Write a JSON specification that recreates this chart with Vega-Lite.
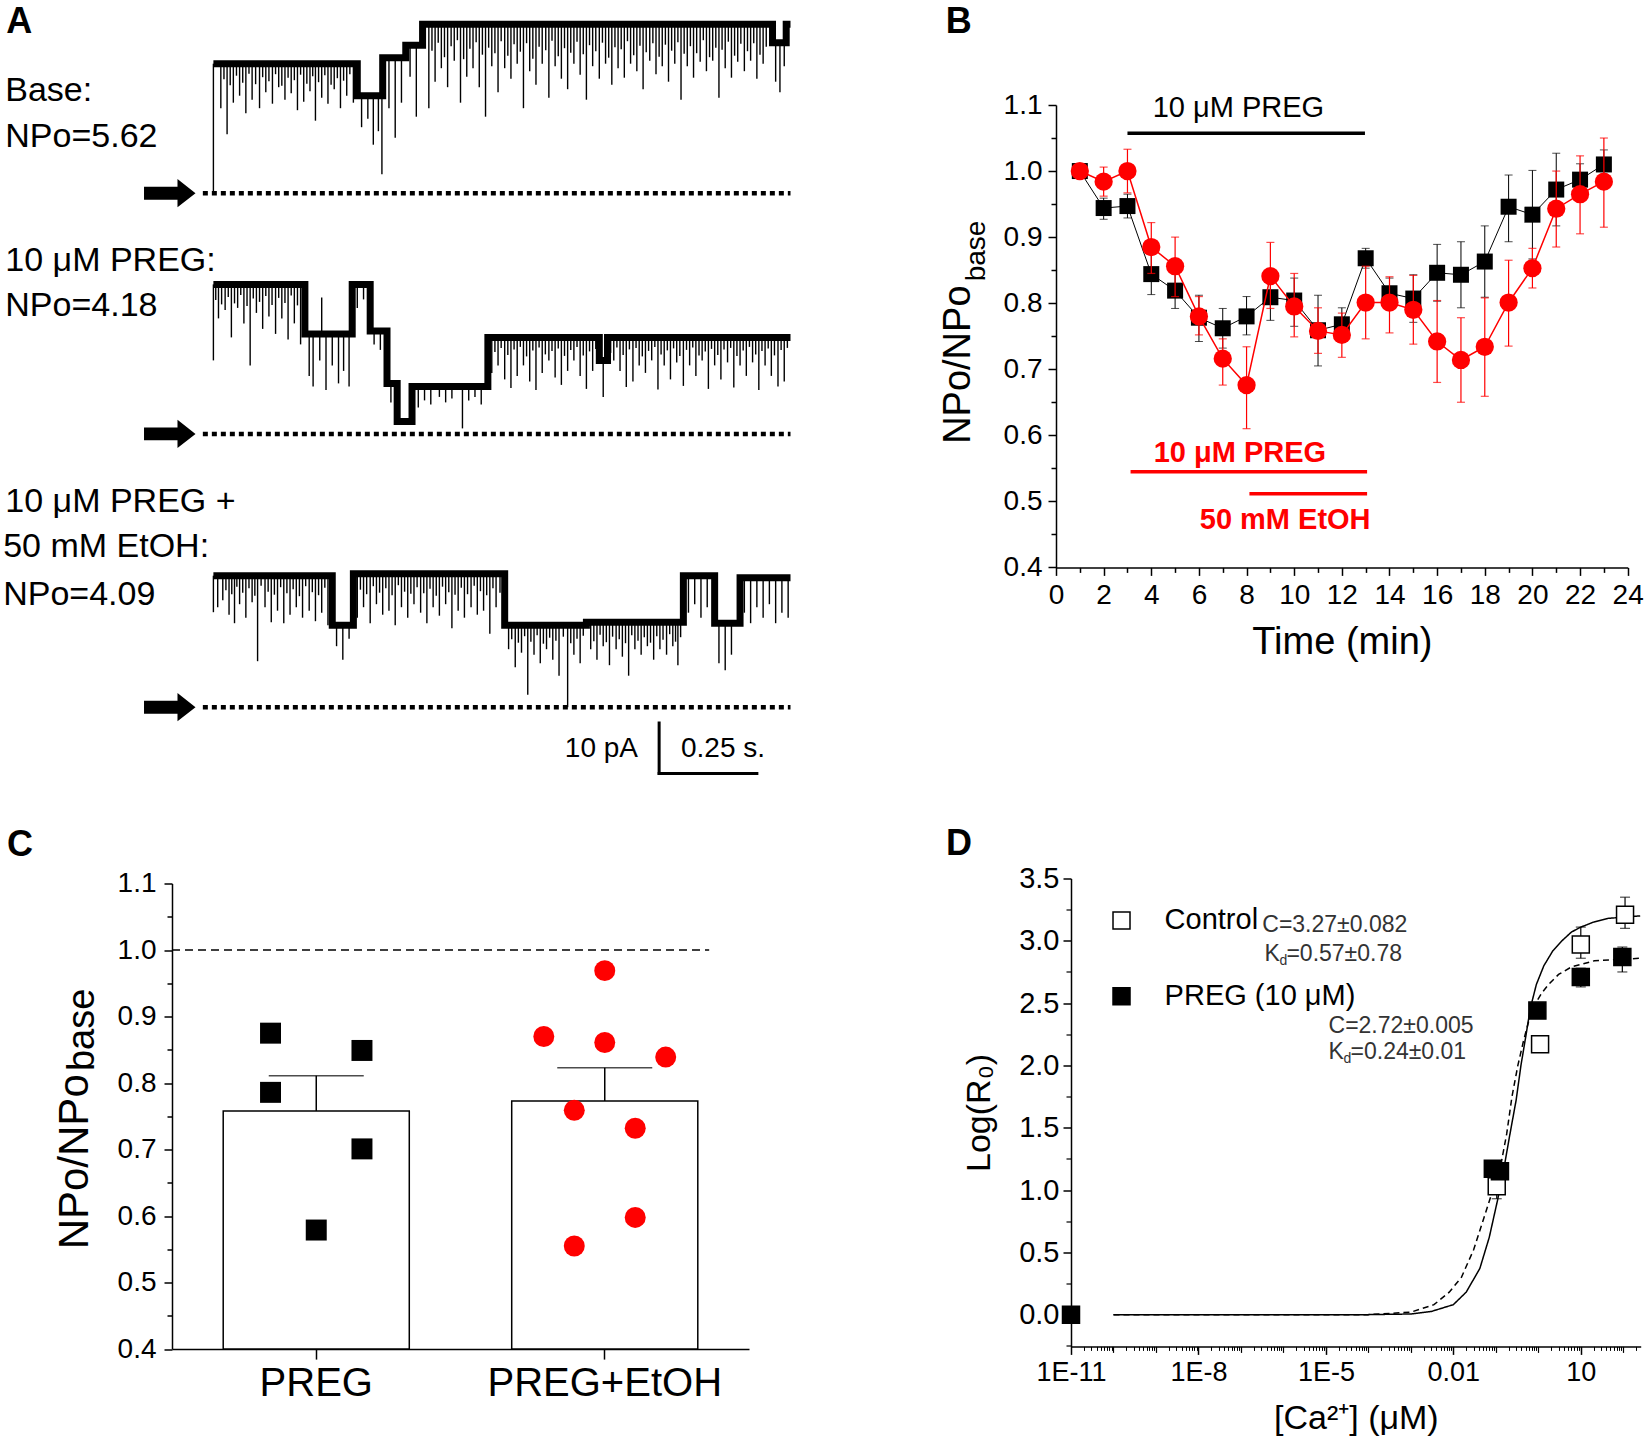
{
"$schema": "https://vega.github.io/schema/vega-lite/v6.json",
"background": "white",
"padding": 0,
"config": {
 "font": "Liberation Sans",
 "view": {"stroke": null},
 "axis": {"labelColor": "black", "titleColor": "black", "domainColor": "black", "tickColor": "black", "grid": false, "labelFont": "Liberation Sans", "titleFont": "Liberation Sans", "titleFontWeight": "normal"},
 "text": {"font": "Liberation Sans", "color": "black"}
},
"datasets": {
 "t1l": [{"t":0,"i":25.9},{"t":0.368,"i":19.5},{"t":0.433,"i":27.1},{"t":0.492,"i":29.6},{"t":0.535,"i":33.8},{"t":1.43,"i":30.1},{"t":1.465,"i":33.8},{"t":1.476,"i":33.8}],
 "t1s": [{"t":0,"h":25.9,"l":0},{"t":0.019,"h":25.9,"l":17},{"t":0.035,"h":25.9,"l":11.8},{"t":0.051,"h":25.9,"l":18.1},{"t":0.067,"h":25.9,"l":19.5},{"t":0.083,"h":25.9,"l":16},{"t":0.099,"h":25.9,"l":18.7},{"t":0.118,"h":25.9,"l":17},{"t":0.134,"h":25.9,"l":20.2},{"t":0.151,"h":25.9,"l":17.9},{"t":0.167,"h":25.9,"l":21.2},{"t":0.183,"h":25.9,"l":18.7},{"t":0.199,"h":25.9,"l":20},{"t":0.215,"h":25.9,"l":16.6},{"t":0.231,"h":25.9,"l":18.3},{"t":0.247,"h":25.9,"l":20.4},{"t":0.261,"h":25.9,"l":14.5},{"t":0.277,"h":25.9,"l":19.1},{"t":0.293,"h":25.9,"l":17.9},{"t":0.309,"h":25.9,"l":20.8},{"t":0.325,"h":25.9,"l":17},{"t":0.341,"h":25.9,"l":19.5},{"t":0.358,"h":25.9,"l":18.1},{"t":0.379,"h":19.5,"l":13.2},{"t":0.395,"h":19.5,"l":14.9},{"t":0.409,"h":19.5,"l":9.7},{"t":0.422,"h":19.5,"l":12.4},{"t":0.431,"h":19.5,"l":3.8},{"t":0.449,"h":27.1,"l":17},{"t":0.465,"h":27.1,"l":11.1},{"t":0.481,"h":27.1,"l":18.1},{"t":0.503,"h":29.6,"l":23.3},{"t":0.519,"h":29.6,"l":15.3},{"t":0.551,"h":33.8,"l":17},{"t":0.567,"h":33.8,"l":22.3},{"t":0.583,"h":33.8,"l":25},{"t":0.599,"h":33.8,"l":21.2},{"t":0.616,"h":33.8,"l":26.5},{"t":0.632,"h":33.8,"l":18.1},{"t":0.648,"h":33.8,"l":23.3},{"t":0.664,"h":33.8,"l":25},{"t":0.68,"h":33.8,"l":21.2},{"t":0.696,"h":33.8,"l":15.3},{"t":0.712,"h":33.8,"l":25.4},{"t":0.728,"h":33.8,"l":20.2},{"t":0.745,"h":33.8,"l":25},{"t":0.761,"h":33.8,"l":22.9},{"t":0.777,"h":33.8,"l":25.9},{"t":0.793,"h":33.8,"l":17},{"t":0.809,"h":33.8,"l":24.4},{"t":0.825,"h":33.8,"l":21.7},{"t":0.841,"h":33.8,"l":25.9},{"t":0.858,"h":33.8,"l":19.1},{"t":0.874,"h":33.8,"l":25.4},{"t":0.89,"h":33.8,"l":22.9},{"t":0.906,"h":33.8,"l":20.8},{"t":0.922,"h":33.8,"l":25.9},{"t":0.938,"h":33.8,"l":23.7},{"t":0.954,"h":33.8,"l":18.7},{"t":0.97,"h":33.8,"l":25.4},{"t":0.987,"h":33.8,"l":22.9},{"t":1.003,"h":33.8,"l":25.9},{"t":1.019,"h":33.8,"l":21.7},{"t":1.035,"h":33.8,"l":25},{"t":1.051,"h":33.8,"l":23.1},{"t":1.067,"h":33.8,"l":25.9},{"t":1.083,"h":33.8,"l":24.4},{"t":1.099,"h":33.8,"l":20.8},{"t":1.116,"h":33.8,"l":26.5},{"t":1.132,"h":33.8,"l":23.8},{"t":1.148,"h":33.8,"l":25.4},{"t":1.164,"h":33.8,"l":22.3},{"t":1.18,"h":33.8,"l":25.9},{"t":1.196,"h":33.8,"l":18.7},{"t":1.212,"h":33.8,"l":25.4},{"t":1.228,"h":33.8,"l":23.1},{"t":1.245,"h":33.8,"l":26.3},{"t":1.261,"h":33.8,"l":24.4},{"t":1.277,"h":33.8,"l":26.5},{"t":1.293,"h":33.8,"l":19.1},{"t":1.309,"h":33.8,"l":25},{"t":1.325,"h":33.8,"l":23.1},{"t":1.341,"h":33.8,"l":26.3},{"t":1.358,"h":33.8,"l":24.4},{"t":1.374,"h":33.8,"l":26.5},{"t":1.39,"h":33.8,"l":22.9},{"t":1.406,"h":33.8,"l":25.9},{"t":1.438,"h":30.1,"l":22.3},{"t":1.449,"h":30.1,"l":20.2},{"t":1.46,"h":30.1,"l":25.4},
  {"t":0.027,"h":25.9,"l":22.8},{"t":0.043,"h":25.9,"l":21.6},{"t":0.059,"h":25.9,"l":23.5},{"t":0.075,"h":25.9,"l":22.1},{"t":0.091,"h":25.9,"l":23.9},{"t":0.108,"h":25.9,"l":21.8},{"t":0.126,"h":25.9,"l":23.2},{"t":0.142,"h":25.9,"l":22.4},{"t":0.159,"h":25.9,"l":23.8},{"t":0.175,"h":25.9,"l":21.5},{"t":0.191,"h":25.9,"l":23.1},{"t":0.207,"h":25.9,"l":22.6},{"t":0.223,"h":25.9,"l":23.7},{"t":0.239,"h":25.9,"l":21.9},{"t":0.254,"h":25.9,"l":23.4},{"t":0.269,"h":25.9,"l":22.2},{"t":0.285,"h":25.9,"l":23.6},{"t":0.301,"h":25.9,"l":21.7},{"t":0.317,"h":25.9,"l":23},{"t":0.333,"h":25.9,"l":22.5},{"t":0.349,"h":25.9,"l":23.8},
  {"t":0.559,"h":33.8,"l":28.5},{"t":0.575,"h":33.8,"l":30.1},{"t":0.591,"h":33.8,"l":27.2},{"t":0.608,"h":33.8,"l":29.4},{"t":0.624,"h":33.8,"l":30.6},{"t":0.64,"h":33.8,"l":26.8},{"t":0.656,"h":33.8,"l":28.9},{"t":0.672,"h":33.8,"l":30.2},{"t":0.688,"h":33.8,"l":27.7},{"t":0.704,"h":33.8,"l":29.1},{"t":0.72,"h":33.8,"l":28},{"t":0.736,"h":33.8,"l":30.4},{"t":0.753,"h":33.8,"l":27.5},{"t":0.769,"h":33.8,"l":29.8},{"t":0.785,"h":33.8,"l":28.3},{"t":0.801,"h":33.8,"l":30},{"t":0.817,"h":33.8,"l":26.9},{"t":0.833,"h":33.8,"l":29.3},{"t":0.85,"h":33.8,"l":28.6},{"t":0.866,"h":33.8,"l":30.5},{"t":0.882,"h":33.8,"l":27.4},{"t":0.898,"h":33.8,"l":29},{"t":0.914,"h":33.8,"l":28.1},{"t":0.93,"h":33.8,"l":30.3},{"t":0.946,"h":33.8,"l":27.8},{"t":0.962,"h":33.8,"l":29.6},{"t":0.978,"h":33.8,"l":28.4},{"t":0.995,"h":33.8,"l":30.1},{"t":1.011,"h":33.8,"l":27.1},{"t":1.027,"h":33.8,"l":29.2},{"t":1.043,"h":33.8,"l":28.8},{"t":1.059,"h":33.8,"l":30.4},{"t":1.075,"h":33.8,"l":27.6},{"t":1.091,"h":33.8,"l":29.5},{"t":1.107,"h":33.8,"l":28.2},{"t":1.124,"h":33.8,"l":30},{"t":1.14,"h":33.8,"l":27.3},{"t":1.156,"h":33.8,"l":29.7},{"t":1.172,"h":33.8,"l":28.5},{"t":1.188,"h":33.8,"l":30.2},{"t":1.204,"h":33.8,"l":27.9},{"t":1.22,"h":33.8,"l":29.4},{"t":1.236,"h":33.8,"l":28},{"t":1.253,"h":33.8,"l":30.6},{"t":1.269,"h":33.8,"l":27.2},{"t":1.285,"h":33.8,"l":29.1},{"t":1.301,"h":33.8,"l":28.7},{"t":1.317,"h":33.8,"l":30.3},{"t":1.333,"h":33.8,"l":27.5},{"t":1.349,"h":33.8,"l":29.9},{"t":1.366,"h":33.8,"l":28.4},{"t":1.382,"h":33.8,"l":30},{"t":1.398,"h":33.8,"l":27.7},{"t":1.414,"h":33.8,"l":29.3}],
 "t2l": [{"t":0,"i":29.9},{"t":0.234,"i":20},{"t":0.355,"i":29.9},{"t":0.401,"i":20.6},{"t":0.444,"i":10.1},{"t":0.47,"i":2.5},{"t":0.508,"i":9.5},{"t":0.702,"i":19.3},{"t":0.987,"i":14.7},{"t":1.008,"i":19.3},{"t":1.476,"i":19.3}],
 "t2s": [{"t":0,"h":29.9,"l":14.7},{"t":0.013,"h":29.9,"l":23.1},{"t":0.03,"h":29.9,"l":24.8},{"t":0.046,"h":29.9,"l":19.3},{"t":0.062,"h":29.9,"l":25.2},{"t":0.078,"h":29.9,"l":22.1},{"t":0.094,"h":29.9,"l":13.7},{"t":0.11,"h":29.9,"l":24.2},{"t":0.126,"h":29.9,"l":21},{"t":0.142,"h":29.9,"l":23.5},{"t":0.159,"h":29.9,"l":20},{"t":0.175,"h":29.9,"l":23.1},{"t":0.191,"h":29.9,"l":18.9},{"t":0.207,"h":29.9,"l":22.1},{"t":0.223,"h":29.9,"l":17.9},{"t":0.245,"h":20,"l":11.6},{"t":0.255,"h":20,"l":9.5},{"t":0.272,"h":20,"l":14.7},{"t":0.277,"h":20,"l":27.3},{"t":0.288,"h":20,"l":8.8},{"t":0.304,"h":20,"l":13.7},{"t":0.32,"h":20,"l":10.1},{"t":0.333,"h":20,"l":12.6},{"t":0.347,"h":20,"l":9.5},{"t":0.368,"h":29.9,"l":25.2},{"t":0.384,"h":29.9,"l":26.9},{"t":0.411,"h":20.6,"l":17.9},{"t":0.427,"h":20.6,"l":16.8},{"t":0.454,"h":10.1,"l":6.3},{"t":0.524,"h":9.5,"l":5.3},{"t":0.54,"h":9.5,"l":6.7},{"t":0.556,"h":9.5,"l":5.9},{"t":0.578,"h":9.5,"l":7.4},{"t":0.594,"h":9.5,"l":6.3},{"t":0.61,"h":9.5,"l":7.1},{"t":0.637,"h":9.5,"l":1.1},{"t":0.653,"h":9.5,"l":6.7},{"t":0.669,"h":9.5,"l":7.4},{"t":0.685,"h":9.5,"l":5.9},{"t":0.712,"h":19.3,"l":12.2},{"t":0.728,"h":19.3,"l":13.7},{"t":0.745,"h":19.3,"l":10.9},{"t":0.761,"h":19.3,"l":9.2},{"t":0.777,"h":19.3,"l":11.6},{"t":0.793,"h":19.3,"l":13.7},{"t":0.809,"h":19.3,"l":10.5},{"t":0.825,"h":19.3,"l":8.8},{"t":0.841,"h":19.3,"l":12.2},{"t":0.858,"h":19.3,"l":14.7},{"t":0.874,"h":19.3,"l":11.3},{"t":0.89,"h":19.3,"l":9.8},{"t":0.906,"h":19.3,"l":12.6},{"t":0.922,"h":19.3,"l":14.7},{"t":0.938,"h":19.3,"l":11.6},{"t":0.954,"h":19.3,"l":9},{"t":0.97,"h":19.3,"l":12.6},{"t":0.997,"h":14.7,"l":7.4},{"t":1.024,"h":19.3,"l":14.7},{"t":1.04,"h":19.3,"l":12.6},{"t":1.056,"h":19.3,"l":9.4},{"t":1.073,"h":19.3,"l":10.5},{"t":1.089,"h":19.3,"l":13.7},{"t":1.105,"h":19.3,"l":12.2},{"t":1.121,"h":19.3,"l":14.7},{"t":1.137,"h":19.3,"l":8.9},{"t":1.153,"h":19.3,"l":13.7},{"t":1.169,"h":19.3,"l":10.9},{"t":1.185,"h":19.3,"l":14.3},{"t":1.202,"h":19.3,"l":9.6},{"t":1.218,"h":19.3,"l":13.7},{"t":1.234,"h":19.3,"l":11.6},{"t":1.25,"h":19.3,"l":14.7},{"t":1.266,"h":19.3,"l":9},{"t":1.282,"h":19.3,"l":13.7},{"t":1.298,"h":19.3,"l":10.9},{"t":1.315,"h":19.3,"l":14.3},{"t":1.331,"h":19.3,"l":9.3},{"t":1.347,"h":19.3,"l":13.7},{"t":1.363,"h":19.3,"l":11.6},{"t":1.379,"h":19.3,"l":14.3},{"t":1.395,"h":19.3,"l":8.8},{"t":1.411,"h":19.3,"l":13.7},{"t":1.427,"h":19.3,"l":11.6},{"t":1.444,"h":19.3,"l":9.5},{"t":1.46,"h":19.3,"l":10.5},
  {"t":0.006,"h":29.9,"l":26.8},{"t":0.021,"h":29.9,"l":25.9},{"t":0.038,"h":29.9,"l":27.4},{"t":0.054,"h":29.9,"l":26.1},{"t":0.07,"h":29.9,"l":27.8},{"t":0.086,"h":29.9,"l":25.6},{"t":0.102,"h":29.9,"l":27.1},{"t":0.118,"h":29.9,"l":26.4},{"t":0.134,"h":29.9,"l":27.6},{"t":0.15,"h":29.9,"l":25.8},{"t":0.167,"h":29.9,"l":27.2},{"t":0.183,"h":29.9,"l":26.2},{"t":0.199,"h":29.9,"l":27.7},{"t":0.215,"h":29.9,"l":25.7},{"t":0.229,"h":29.9,"l":26.9},
  {"t":0.72,"h":19.3,"l":16.4},{"t":0.736,"h":19.3,"l":17.2},{"t":0.753,"h":19.3,"l":15.8},{"t":0.769,"h":19.3,"l":16.9},{"t":0.785,"h":19.3,"l":17.4},{"t":0.801,"h":19.3,"l":15.5},{"t":0.817,"h":19.3,"l":16.7},{"t":0.833,"h":19.3,"l":17.3},{"t":0.849,"h":19.3,"l":15.9},{"t":0.866,"h":19.3,"l":16.6},{"t":0.882,"h":19.3,"l":17.1},{"t":0.898,"h":19.3,"l":15.6},{"t":0.914,"h":19.3,"l":16.8},{"t":0.93,"h":19.3,"l":17.4},{"t":0.946,"h":19.3,"l":15.7},{"t":0.962,"h":19.3,"l":16.5},{"t":0.978,"h":19.3,"l":17},{"t":1.016,"h":19.3,"l":16.2},{"t":1.032,"h":19.3,"l":17.3},{"t":1.048,"h":19.3,"l":15.8},{"t":1.064,"h":19.3,"l":16.9},{"t":1.081,"h":19.3,"l":17.2},{"t":1.097,"h":19.3,"l":15.5},{"t":1.113,"h":19.3,"l":16.6},{"t":1.129,"h":19.3,"l":17.4},{"t":1.145,"h":19.3,"l":15.9},{"t":1.161,"h":19.3,"l":16.7},{"t":1.177,"h":19.3,"l":17.1},{"t":1.193,"h":19.3,"l":15.6},{"t":1.21,"h":19.3,"l":16.8},{"t":1.226,"h":19.3,"l":17.3},{"t":1.242,"h":19.3,"l":15.7},{"t":1.258,"h":19.3,"l":16.5},{"t":1.274,"h":19.3,"l":17},{"t":1.29,"h":19.3,"l":15.8},{"t":1.306,"h":19.3,"l":16.9},{"t":1.323,"h":19.3,"l":17.2},{"t":1.339,"h":19.3,"l":15.6},{"t":1.355,"h":19.3,"l":16.7},{"t":1.371,"h":19.3,"l":17.4},{"t":1.387,"h":19.3,"l":15.9},{"t":1.403,"h":19.3,"l":16.6},{"t":1.419,"h":19.3,"l":17.1},{"t":1.435,"h":19.3,"l":15.7},{"t":1.452,"h":19.3,"l":16.8},{"t":1.468,"h":19.3,"l":17.2}],
 "t3l": [{"t":0,"i":26.3},{"t":0.304,"i":16.4},{"t":0.358,"i":26.7},{"t":0.745,"i":16.4},{"t":0.954,"i":17},{"t":1.202,"i":26.3},{"t":1.282,"i":16.8},{"t":1.347,"i":25.9},{"t":1.476,"i":25.9}],
 "t3s": [{"t":0,"h":26.3,"l":19},{"t":0.011,"h":26.3,"l":20},{"t":0.024,"h":26.3,"l":21.4},{"t":0.04,"h":26.3,"l":18.5},{"t":0.054,"h":26.3,"l":16.8},{"t":0.067,"h":26.3,"l":20.6},{"t":0.083,"h":26.3,"l":17.9},{"t":0.099,"h":26.3,"l":21},{"t":0.113,"h":26.3,"l":9.2},{"t":0.132,"h":26.3,"l":20},{"t":0.148,"h":26.3,"l":17},{"t":0.164,"h":26.3,"l":19.3},{"t":0.18,"h":26.3,"l":16.8},{"t":0.196,"h":26.3,"l":18.5},{"t":0.212,"h":26.3,"l":20},{"t":0.228,"h":26.3,"l":17.9},{"t":0.245,"h":26.3,"l":19.3},{"t":0.261,"h":26.3,"l":17.2},{"t":0.277,"h":26.3,"l":18.9},{"t":0.293,"h":26.3,"l":16.4},{"t":0.315,"h":16.4,"l":12.2},{"t":0.331,"h":16.4,"l":9.5},{"t":0.347,"h":16.4,"l":13.7},{"t":0.368,"h":26.7,"l":17.9},{"t":0.384,"h":26.7,"l":20},{"t":0.401,"h":26.7,"l":16.8},{"t":0.417,"h":26.7,"l":20.6},{"t":0.433,"h":26.7,"l":18.5},{"t":0.449,"h":26.7,"l":19.3},{"t":0.465,"h":26.7,"l":16.4},{"t":0.481,"h":26.7,"l":20},{"t":0.497,"h":26.7,"l":17.9},{"t":0.513,"h":26.7,"l":20.6},{"t":0.53,"h":26.7,"l":18.9},{"t":0.546,"h":26.7,"l":16.8},{"t":0.562,"h":26.7,"l":20},{"t":0.578,"h":26.7,"l":18.3},{"t":0.594,"h":26.7,"l":20.6},{"t":0.61,"h":26.7,"l":15.8},{"t":0.626,"h":26.7,"l":19.3},{"t":0.642,"h":26.7,"l":17.9},{"t":0.659,"h":26.7,"l":20},{"t":0.675,"h":26.7,"l":18.5},{"t":0.691,"h":26.7,"l":19.3},{"t":0.707,"h":26.7,"l":14.7},{"t":0.723,"h":26.7,"l":20},{"t":0.755,"h":16.4,"l":11.6},{"t":0.772,"h":16.4,"l":8},{"t":0.788,"h":16.4,"l":10.9},{"t":0.804,"h":16.4,"l":2.5},{"t":0.82,"h":16.4,"l":10.5},{"t":0.836,"h":16.4,"l":8.8},{"t":0.852,"h":16.4,"l":11.6},{"t":0.868,"h":16.4,"l":9.5},{"t":0.884,"h":16.4,"l":6.3},{"t":0.906,"h":16.4,"l":0},{"t":0.922,"h":16.4,"l":10.5},{"t":0.938,"h":16.4,"l":8.8},{"t":0.965,"h":17,"l":11.6},{"t":0.981,"h":17,"l":9.5},{"t":0.997,"h":17,"l":12.2},{"t":1.013,"h":17,"l":8.4},{"t":1.03,"h":17,"l":11.6},{"t":1.046,"h":17,"l":10.1},{"t":1.062,"h":17,"l":6.3},{"t":1.078,"h":17,"l":11.6},{"t":1.094,"h":17,"l":10.5},{"t":1.11,"h":17,"l":12.2},{"t":1.126,"h":17,"l":9.5},{"t":1.142,"h":17,"l":11.6},{"t":1.159,"h":17,"l":10.5},{"t":1.175,"h":17,"l":12.2},{"t":1.188,"h":17,"l":8.4},{"t":1.215,"h":26.3,"l":18.9},{"t":1.231,"h":26.3,"l":20.6},{"t":1.247,"h":26.3,"l":17.9},{"t":1.263,"h":26.3,"l":20},{"t":1.293,"h":16.8,"l":8.8},{"t":1.309,"h":16.8,"l":7.4},{"t":1.325,"h":16.8,"l":10.5},{"t":1.358,"h":25.9,"l":18.9},{"t":1.374,"h":25.9,"l":16.8},{"t":1.39,"h":25.9,"l":20},{"t":1.406,"h":25.9,"l":17.9},{"t":1.422,"h":25.9,"l":20.6},{"t":1.438,"h":25.9,"l":16.8},{"t":1.454,"h":25.9,"l":18.9},{"t":1.47,"h":25.9,"l":17.9},
  {"t":0.032,"h":26.3,"l":23.4},{"t":0.047,"h":26.3,"l":22.6},{"t":0.06,"h":26.3,"l":24.1},{"t":0.075,"h":26.3,"l":22.9},{"t":0.091,"h":26.3,"l":23.8},{"t":0.106,"h":26.3,"l":22.3},{"t":0.122,"h":26.3,"l":24.3},{"t":0.14,"h":26.3,"l":23.1},{"t":0.156,"h":26.3,"l":22.5},{"t":0.172,"h":26.3,"l":24},{"t":0.188,"h":26.3,"l":22.8},{"t":0.204,"h":26.3,"l":23.6},{"t":0.22,"h":26.3,"l":22.2},{"t":0.236,"h":26.3,"l":24.2},{"t":0.253,"h":26.3,"l":23},{"t":0.269,"h":26.3,"l":22.4},{"t":0.285,"h":26.3,"l":23.9},{"t":0.299,"h":26.3,"l":22.7},
  {"t":0.376,"h":26.7,"l":23.5},{"t":0.392,"h":26.7,"l":22.6},{"t":0.409,"h":26.7,"l":24.2},{"t":0.425,"h":26.7,"l":22.9},{"t":0.441,"h":26.7,"l":23.8},{"t":0.457,"h":26.7,"l":22.4},{"t":0.473,"h":26.7,"l":24.4},{"t":0.489,"h":26.7,"l":23.1},{"t":0.505,"h":26.7,"l":22.7},{"t":0.521,"h":26.7,"l":24},{"t":0.538,"h":26.7,"l":22.8},{"t":0.554,"h":26.7,"l":23.7},{"t":0.57,"h":26.7,"l":22.3},{"t":0.586,"h":26.7,"l":24.1},{"t":0.602,"h":26.7,"l":23},{"t":0.618,"h":26.7,"l":22.5},{"t":0.634,"h":26.7,"l":23.9},{"t":0.65,"h":26.7,"l":22.6},{"t":0.667,"h":26.7,"l":24.3},{"t":0.683,"h":26.7,"l":23.2},{"t":0.699,"h":26.7,"l":22.4},{"t":0.715,"h":26.7,"l":23.8},{"t":0.733,"h":26.7,"l":22.9},
  {"t":0.763,"h":16.4,"l":13.6},{"t":0.78,"h":16.4,"l":12.9},{"t":0.796,"h":16.4,"l":14.2},{"t":0.812,"h":16.4,"l":13.1},{"t":0.828,"h":16.4,"l":14.4},{"t":0.844,"h":16.4,"l":12.7},{"t":0.86,"h":16.4,"l":13.9},{"t":0.876,"h":16.4,"l":13.3},{"t":0.895,"h":16.4,"l":14.1},{"t":0.914,"h":16.4,"l":12.8},{"t":0.93,"h":16.4,"l":13.7},{"t":0.946,"h":16.4,"l":14.3},{"t":0.973,"h":17,"l":13.2},{"t":0.989,"h":17,"l":14.5},{"t":1.005,"h":17,"l":13},{"t":1.021,"h":17,"l":14.1},{"t":1.038,"h":17,"l":13.6},{"t":1.054,"h":17,"l":12.8},{"t":1.07,"h":17,"l":14.4},{"t":1.086,"h":17,"l":13.3},{"t":1.102,"h":17,"l":14},{"t":1.118,"h":17,"l":12.9},{"t":1.134,"h":17,"l":14.2},{"t":1.15,"h":17,"l":13.5},{"t":1.167,"h":17,"l":14.6},{"t":1.182,"h":17,"l":13.1},{"t":1.195,"h":17,"l":14}],
 "bk": [{"t":1,"m":1,"lo":1,"hi":1},{"t":2,"m":0.944,"lo":0.927,"hi":0.959},{"t":3,"m":0.947,"lo":0.929,"hi":0.965},{"t":4,"m":0.844,"lo":0.813,"hi":0.876},{"t":5,"m":0.819,"lo":0.792,"hi":0.846},{"t":6,"m":0.778,"lo":0.742,"hi":0.812},{"t":7,"m":0.762,"lo":0.732,"hi":0.792},{"t":8,"m":0.78,"lo":0.752,"hi":0.81},{"t":9,"m":0.809,"lo":0.774,"hi":0.84},{"t":10,"m":0.804,"lo":0.765,"hi":0.838},{"t":11,"m":0.759,"lo":0.705,"hi":0.812},{"t":12,"m":0.768,"lo":0.748,"hi":0.793},{"t":13,"m":0.868,"lo":0.853,"hi":0.883},{"t":14,"m":0.815,"lo":0.792,"hi":0.838},{"t":15,"m":0.807,"lo":0.771,"hi":0.843},{"t":16,"m":0.846,"lo":0.803,"hi":0.889},{"t":17,"m":0.843,"lo":0.793,"hi":0.893},{"t":18,"m":0.863,"lo":0.809,"hi":0.917},{"t":19,"m":0.946,"lo":0.893,"hi":0.994},{"t":20,"m":0.934,"lo":0.867,"hi":1.001},{"t":21,"m":0.972,"lo":0.917,"hi":1.027},{"t":22,"m":0.987,"lo":0.96,"hi":1.011},{"t":23,"m":1.01,"lo":0.985,"hi":1.032}],
 "br": [{"t":1,"m":1,"lo":1,"hi":1},{"t":2,"m":0.984,"lo":0.962,"hi":1.006},{"t":3,"m":1,"lo":0.967,"hi":1.033},{"t":4,"m":0.885,"lo":0.845,"hi":0.922},{"t":5,"m":0.856,"lo":0.81,"hi":0.9},{"t":6,"m":0.78,"lo":0.752,"hi":0.81},{"t":7,"m":0.716,"lo":0.676,"hi":0.746},{"t":8,"m":0.676,"lo":0.61,"hi":0.734},{"t":9,"m":0.841,"lo":0.792,"hi":0.892},{"t":10,"m":0.795,"lo":0.749,"hi":0.845},{"t":11,"m":0.758,"lo":0.724,"hi":0.793},{"t":12,"m":0.752,"lo":0.718,"hi":0.785},{"t":13,"m":0.801,"lo":0.746,"hi":0.856},{"t":14,"m":0.801,"lo":0.755,"hi":0.84},{"t":15,"m":0.79,"lo":0.738,"hi":0.842},{"t":16,"m":0.742,"lo":0.68,"hi":0.804},{"t":17,"m":0.714,"lo":0.65,"hi":0.778},{"t":18,"m":0.734,"lo":0.659,"hi":0.808},{"t":19,"m":0.801,"lo":0.735,"hi":0.865},{"t":20,"m":0.853,"lo":0.823,"hi":0.883},{"t":21,"m":0.943,"lo":0.885,"hi":1},{"t":22,"m":0.965,"lo":0.905,"hi":1.023},{"t":23,"m":0.984,"lo":0.915,"hi":1.05}],
 "cbar": [{"g":"PREG","m":0.758,"hi":0.811},{"g":"PREG+EtOH","m":0.773,"hi":0.823}],
 "cdots": [{"g":"PREG","v":0.875,"j":-3},{"g":"PREG","v":0.849,"j":3},{"g":"PREG","v":0.786,"j":-3},{"g":"PREG","v":0.701,"j":3},{"g":"PREG","v":0.579,"j":0},{"g":"PREG+EtOH","v":0.969,"j":0},{"g":"PREG+EtOH","v":0.87,"j":-4},{"g":"PREG+EtOH","v":0.861,"j":0},{"g":"PREG+EtOH","v":0.839,"j":4},{"g":"PREG+EtOH","v":0.759,"j":-2},{"g":"PREG+EtOH","v":0.732,"j":2},{"g":"PREG+EtOH","v":0.598,"j":2},{"g":"PREG+EtOH","v":0.555,"j":-2}],
 "dcurve": [{"s":"Control","c":1e-10,"v":0},{"s":"Control","c":0.0001,"v":0},{"s":"Control","c":0.001,"v":0.005},{"s":"Control","c":0.003,"v":0.025},{"s":"Control","c":0.01,"v":0.08},{"s":"Control","c":0.02,"v":0.18},{"s":"Control","c":0.042,"v":0.37},{"s":"Control","c":0.07,"v":0.62},{"s":"Control","c":0.11,"v":0.92},{"s":"Control","c":0.16,"v":1.2},{"s":"Control","c":0.21,"v":1.43},{"s":"Control","c":0.3,"v":1.72},{"s":"Control","c":0.39,"v":2},{"s":"Control","c":0.5,"v":2.22},{"s":"Control","c":0.65,"v":2.46},{"s":"Control","c":0.9,"v":2.65},{"s":"Control","c":1.35,"v":2.8},{"s":"Control","c":2.2,"v":2.92},{"s":"Control","c":3.6,"v":3},{"s":"Control","c":6,"v":3.07},{"s":"Control","c":10,"v":3.11},{"s":"Control","c":20,"v":3.15},{"s":"Control","c":44,"v":3.18},{"s":"Control","c":250,"v":3.2},{"s":"PREG","c":1e-10,"v":0},{"s":"PREG","c":0.0001,"v":0},{"s":"PREG","c":0.001,"v":0.02},{"s":"PREG","c":0.0035,"v":0.08},{"s":"PREG","c":0.008,"v":0.18},{"s":"PREG","c":0.0155,"v":0.3},{"s":"PREG","c":0.03,"v":0.52},{"s":"PREG","c":0.054,"v":0.79},{"s":"PREG","c":0.085,"v":1},{"s":"PREG","c":0.126,"v":1.17},{"s":"PREG","c":0.18,"v":1.45},{"s":"PREG","c":0.24,"v":1.75},{"s":"PREG","c":0.33,"v":2},{"s":"PREG","c":0.45,"v":2.2},{"s":"PREG","c":0.6,"v":2.36},{"s":"PREG","c":0.83,"v":2.49},{"s":"PREG","c":1.2,"v":2.58},{"s":"PREG","c":1.74,"v":2.65},{"s":"PREG","c":3,"v":2.73},{"s":"PREG","c":6,"v":2.79},{"s":"PREG","c":21,"v":2.84},{"s":"PREG","c":250,"v":2.86}],
 "dpts": [{"s":"Control","c":0.105,"v":1.03,"lo":0.93,"hi":1.11},{"s":"Control","c":1.1,"v":2.17,"lo":2.13,"hi":2.21},{"s":"Control","c":10,"v":2.97,"lo":2.86,"hi":3.11},{"s":"Control","c":110,"v":3.21,"lo":3.1,"hi":3.35},{"s":"PREG","c":1e-11,"v":0},{"s":"PREG","c":0.085,"v":1.17},{"s":"PREG","c":0.125,"v":1.15},{"s":"PREG","c":0.95,"v":2.44,"lo":2.39,"hi":2.49},{"s":"PREG","c":10,"v":2.71,"lo":2.63,"hi":2.78},{"s":"PREG","c":95,"v":2.87,"lo":2.75,"hi":2.95}]
},
"vconcat": [
 {
  "hconcat": [
   {
    "width": 800, "height": 790,
    "resolve": {"scale": {"y": "independent"}},
    "layer": [
     {
      "data": {"values": [{}]},
      "layer": [
       {"data": {"name": "t1l"}, "mark": {"type": "line", "interpolate": "step-after", "strokeWidth": 7, "color": "black"},
        "encoding": {"x": {"field": "t", "type": "quantitative", "scale": {"domain": [-0.5458, 1.5003], "nice": false, "zero": false}, "axis": null},
                     "y": {"field": "i", "type": "quantitative", "scale": {"domain": [-119.96, 38.04], "nice": false, "zero": false}, "axis": null}}},
       {"data": {"name": "t1s"}, "mark": {"type": "rule", "strokeWidth": 1.4, "color": "black"},
        "encoding": {"x": {"field": "t", "type": "quantitative", "scale": {"domain": [-0.5458, 1.5003], "nice": false, "zero": false}, "axis": null},
                     "y": {"field": "h", "type": "quantitative", "scale": {"domain": [-119.96, 38.04], "nice": false, "zero": false}, "axis": null}, "y2": {"field": "l"}}},
       {"mark": {"type": "rule", "strokeDash": [5, 4], "strokeWidth": 4.5, "color": "black"},
        "encoding": {"x": {"datum": -0.027, "type": "quantitative", "scale": {"domain": [-0.5458, 1.5003], "nice": false, "zero": false}, "axis": null}, "x2": {"datum": 1.476},
                     "y": {"datum": 0, "type": "quantitative", "scale": {"domain": [-119.96, 38.04], "nice": false, "zero": false}, "axis": null}}},
       {"mark": {"type": "point", "shape": "M -1 -0.25 L 0.3 -0.25 L 0.3 -0.55 L 1 0 L 0.3 0.55 L 0.3 0.25 L -1 0.25 Z", "size": 2652, "filled": true, "color": "black", "opacity": 1},
        "encoding": {"x": {"datum": -0.1116, "type": "quantitative", "scale": {"domain": [-0.5458, 1.5003], "nice": false, "zero": false}, "axis": null},
                     "y": {"datum": 0, "type": "quantitative", "scale": {"domain": [-119.96, 38.04], "nice": false, "zero": false}, "axis": null}}},
       {"mark": {"type": "text", "text": "A", "fontSize": 36, "fontWeight": "bold", "align": "left", "baseline": "middle"},
        "encoding": {"x": {"datum": -0.5297, "type": "quantitative", "scale": {"domain": [-0.5458, 1.5003], "nice": false, "zero": false}, "axis": null},
                     "y": {"datum": 34.26, "type": "quantitative", "scale": {"domain": [-119.96, 38.04], "nice": false, "zero": false}, "axis": null}}},
       {"mark": {"type": "text", "text": "Base:", "fontSize": 34, "align": "left", "baseline": "middle"},
        "encoding": {"x": {"datum": -0.5323, "type": "quantitative", "scale": {"domain": [-0.5458, 1.5003], "nice": false, "zero": false}, "axis": null},
                     "y": {"datum": 20.38, "type": "quantitative", "scale": {"domain": [-119.96, 38.04], "nice": false, "zero": false}, "axis": null}}},
       {"mark": {"type": "text", "text": "NPo=5.62", "fontSize": 34, "align": "left", "baseline": "middle"},
        "encoding": {"x": {"datum": -0.5323, "type": "quantitative", "scale": {"domain": [-0.5458, 1.5003], "nice": false, "zero": false}, "axis": null},
                     "y": {"datum": 11.34, "type": "quantitative", "scale": {"domain": [-119.96, 38.04], "nice": false, "zero": false}, "axis": null}}}
      ]
     },
     {
      "data": {"values": [{}]},
      "layer": [
       {"data": {"name": "t2l"}, "mark": {"type": "line", "interpolate": "step-after", "strokeWidth": 7, "color": "black"},
        "encoding": {"x": {"field": "t", "type": "quantitative", "scale": {"domain": [-0.5458, 1.5003], "nice": false, "zero": false}, "axis": null},
                     "y": {"field": "i", "type": "quantitative", "scale": {"domain": [-71.82, 86.18], "nice": false, "zero": false}, "axis": null}}},
       {"data": {"name": "t2s"}, "mark": {"type": "rule", "strokeWidth": 1.4, "color": "black"},
        "encoding": {"x": {"field": "t", "type": "quantitative", "scale": {"domain": [-0.5458, 1.5003], "nice": false, "zero": false}, "axis": null},
                     "y": {"field": "h", "type": "quantitative", "scale": {"domain": [-71.82, 86.18], "nice": false, "zero": false}, "axis": null}, "y2": {"field": "l"}}},
       {"mark": {"type": "rule", "strokeDash": [5, 4], "strokeWidth": 4.5, "color": "black"},
        "encoding": {"x": {"datum": -0.027, "type": "quantitative", "scale": {"domain": [-0.5458, 1.5003], "nice": false, "zero": false}, "axis": null}, "x2": {"datum": 1.476},
                     "y": {"datum": 0, "type": "quantitative", "scale": {"domain": [-71.82, 86.18], "nice": false, "zero": false}, "axis": null}}},
       {"mark": {"type": "point", "shape": "M -1 -0.25 L 0.3 -0.25 L 0.3 -0.55 L 1 0 L 0.3 0.55 L 0.3 0.25 L -1 0.25 Z", "size": 2652, "filled": true, "color": "black", "opacity": 1},
        "encoding": {"x": {"datum": -0.1116, "type": "quantitative", "scale": {"domain": [-0.5458, 1.5003], "nice": false, "zero": false}, "axis": null},
                     "y": {"datum": 0, "type": "quantitative", "scale": {"domain": [-71.82, 86.18], "nice": false, "zero": false}, "axis": null}}},
       {"mark": {"type": "text", "text": "10 μM PREG:", "fontSize": 34, "align": "left", "baseline": "middle"},
        "encoding": {"x": {"datum": -0.5323, "type": "quantitative", "scale": {"domain": [-0.5458, 1.5003], "nice": false, "zero": false}, "axis": null},
                     "y": {"datum": 34.68, "type": "quantitative", "scale": {"domain": [-71.82, 86.18], "nice": false, "zero": false}, "axis": null}}},
       {"mark": {"type": "text", "text": "NPo=4.18", "fontSize": 34, "align": "left", "baseline": "middle"},
        "encoding": {"x": {"datum": -0.5323, "type": "quantitative", "scale": {"domain": [-0.5458, 1.5003], "nice": false, "zero": false}, "axis": null},
                     "y": {"datum": 25.64, "type": "quantitative", "scale": {"domain": [-71.82, 86.18], "nice": false, "zero": false}, "axis": null}}}
      ]
     },
     {
      "data": {"values": [{}]},
      "layer": [
       {"data": {"name": "t3l"}, "mark": {"type": "line", "interpolate": "step-after", "strokeWidth": 7, "color": "black"},
        "encoding": {"x": {"field": "t", "type": "quantitative", "scale": {"domain": [-0.5458, 1.5003], "nice": false, "zero": false}, "axis": null},
                     "y": {"field": "i", "type": "quantitative", "scale": {"domain": [-17.16, 140.84], "nice": false, "zero": false}, "axis": null}}},
       {"data": {"name": "t3s"}, "mark": {"type": "rule", "strokeWidth": 1.4, "color": "black"},
        "encoding": {"x": {"field": "t", "type": "quantitative", "scale": {"domain": [-0.5458, 1.5003], "nice": false, "zero": false}, "axis": null},
                     "y": {"field": "h", "type": "quantitative", "scale": {"domain": [-17.16, 140.84], "nice": false, "zero": false}, "axis": null}, "y2": {"field": "l"}}},
       {"mark": {"type": "rule", "strokeDash": [5, 4], "strokeWidth": 4.5, "color": "black"},
        "encoding": {"x": {"datum": -0.027, "type": "quantitative", "scale": {"domain": [-0.5458, 1.5003], "nice": false, "zero": false}, "axis": null}, "x2": {"datum": 1.476},
                     "y": {"datum": 0, "type": "quantitative", "scale": {"domain": [-17.16, 140.84], "nice": false, "zero": false}, "axis": null}}},
       {"mark": {"type": "point", "shape": "M -1 -0.25 L 0.3 -0.25 L 0.3 -0.55 L 1 0 L 0.3 0.55 L 0.3 0.25 L -1 0.25 Z", "size": 2652, "filled": true, "color": "black", "opacity": 1},
        "encoding": {"x": {"datum": -0.1116, "type": "quantitative", "scale": {"domain": [-0.5458, 1.5003], "nice": false, "zero": false}, "axis": null},
                     "y": {"datum": 0, "type": "quantitative", "scale": {"domain": [-17.16, 140.84], "nice": false, "zero": false}, "axis": null}}},
       {"mark": {"type": "text", "text": "10 μM PREG +", "fontSize": 34, "align": "left", "baseline": "middle"},
        "encoding": {"x": {"datum": -0.5323, "type": "quantitative", "scale": {"domain": [-0.5458, 1.5003], "nice": false, "zero": false}, "axis": null},
                     "y": {"datum": 41.0, "type": "quantitative", "scale": {"domain": [-17.16, 140.84], "nice": false, "zero": false}, "axis": null}}},
       {"mark": {"type": "text", "text": "50 mM EtOH:", "fontSize": 34, "align": "left", "baseline": "middle"},
        "encoding": {"x": {"datum": -0.5377, "type": "quantitative", "scale": {"domain": [-0.5458, 1.5003], "nice": false, "zero": false}, "axis": null},
                     "y": {"datum": 31.96, "type": "quantitative", "scale": {"domain": [-17.16, 140.84], "nice": false, "zero": false}, "axis": null}}},
       {"mark": {"type": "text", "text": "NPo=4.09", "fontSize": 34, "align": "left", "baseline": "middle"},
        "encoding": {"x": {"datum": -0.5377, "type": "quantitative", "scale": {"domain": [-0.5458, 1.5003], "nice": false, "zero": false}, "axis": null},
                     "y": {"datum": 22.5, "type": "quantitative", "scale": {"domain": [-17.16, 140.84], "nice": false, "zero": false}, "axis": null}}},
       {"mark": {"type": "rule", "strokeWidth": 3, "color": "black", "strokeCap": "square"},
        "encoding": {"x": {"datum": 1.14, "type": "quantitative", "scale": {"domain": [-0.5458, 1.5003], "nice": false, "zero": false}, "axis": null},
                     "y": {"datum": -3.16, "type": "quantitative", "scale": {"domain": [-17.16, 140.84], "nice": false, "zero": false}, "axis": null}, "y2": {"datum": -13.24}}},
       {"mark": {"type": "rule", "strokeWidth": 3, "color": "black", "strokeCap": "square"},
        "encoding": {"x": {"datum": 1.14, "type": "quantitative", "scale": {"domain": [-0.5458, 1.5003], "nice": false, "zero": false}, "axis": null}, "x2": {"datum": 1.39},
                     "y": {"datum": -13.24, "type": "quantitative", "scale": {"domain": [-17.16, 140.84], "nice": false, "zero": false}, "axis": null}}},
       {"mark": {"type": "text", "text": "10 pA", "fontSize": 28, "align": "right", "baseline": "middle"},
        "encoding": {"x": {"datum": 1.086, "type": "quantitative", "scale": {"domain": [-0.5458, 1.5003], "nice": false, "zero": false}, "axis": null},
                     "y": {"datum": -8.4, "type": "quantitative", "scale": {"domain": [-17.16, 140.84], "nice": false, "zero": false}, "axis": null}}},
       {"mark": {"type": "text", "text": "0.25 s.", "fontSize": 28, "align": "left", "baseline": "middle"},
        "encoding": {"x": {"datum": 1.196, "type": "quantitative", "scale": {"domain": [-0.5458, 1.5003], "nice": false, "zero": false}, "axis": null},
                     "y": {"datum": -8.4, "type": "quantitative", "scale": {"domain": [-17.16, 140.84], "nice": false, "zero": false}, "axis": null}}}
      ]
     }
    ]
   },
   {"width": 255.2, "height": 1, "data": {"values": [{}]}, "mark": {"type": "point", "opacity": 0}},
   {
    "vconcat": [
     {"width": 571.7, "height": 102, "data": {"values": [{}]}, "mark": {"type": "point", "opacity": 0}},
     {
      "width": 571.7, "height": 462.4,
      "data": {"values": [{}]},
      "resolve": {"axis": {"x": "independent", "y": "independent"}},
      "layer": [
       {"data": {"name": "bk"}, "mark": {"type": "line", "color": "black", "strokeWidth": 1},
        "encoding": {"x": {"field": "t", "type": "quantitative", "scale": {"domain": [0, 24], "nice": false, "zero": false},
                           "axis": {"orient": "bottom", "values": [0,2,4,6,8,10,12,14,16,18,20,22,24], "tickSize": 8, "tickWidth": 1.5, "domainWidth": 1.5, "labelFontSize": 28, "labelPadding": 6, "labelFlush": false, "labelOverlap": false, "title": "Time (min)", "titleFontSize": 38, "titlePadding": 14}},
                     "y": {"field": "m", "type": "quantitative", "scale": {"domain": [0.4, 1.1], "nice": false, "zero": false},
                           "axis": {"orient": "left", "values": [0.4,0.5,0.6,0.7,0.8,0.9,1.0,1.1], "format": ".1f", "tickSize": 8, "tickWidth": 1.5, "domainWidth": 1.5, "labelFontSize": 28, "labelPadding": 6, "labelOverlap": false, "title": null}}}},
       {"mark": {"type": "point", "opacity": 0},
        "encoding": {"x": {"datum": 0, "type": "quantitative", "scale": {"domain": [0, 24], "nice": false, "zero": false},
                           "axis": {"orient": "bottom", "values": [1,3,5,7,9,11,13,15,17,19,21,23], "labels": false, "domain": false, "tickSize": 5, "tickWidth": 1.5, "title": null}},
                     "y": {"datum": 0.4, "type": "quantitative", "scale": {"domain": [0.4, 1.1], "nice": false, "zero": false},
                           "axis": {"orient": "left", "values": [0.45,0.55,0.65,0.75,0.85,0.95,1.05], "labels": false, "domain": false, "tickSize": 5, "tickWidth": 1.5, "title": null}}}},
       {"data": {"name": "bk"}, "mark": {"type": "rule", "color": "black", "strokeWidth": 1},
        "encoding": {"x": {"field": "t", "type": "quantitative", "scale": {"domain": [0, 24], "nice": false, "zero": false}, "axis": null},
                     "y": {"field": "lo", "type": "quantitative", "scale": {"domain": [0.4, 1.1], "nice": false, "zero": false}, "axis": null}, "y2": {"field": "hi"}}},
       {"data": {"name": "bk"}, "mark": {"type": "tick", "orient": "horizontal", "size": 8, "thickness": 1, "color": "black"},
        "encoding": {"x": {"field": "t", "type": "quantitative", "scale": {"domain": [0, 24], "nice": false, "zero": false}, "axis": null},
                     "y": {"field": "lo", "type": "quantitative", "scale": {"domain": [0.4, 1.1], "nice": false, "zero": false}, "axis": null}}},
       {"data": {"name": "bk"}, "mark": {"type": "tick", "orient": "horizontal", "size": 8, "thickness": 1, "color": "black"},
        "encoding": {"x": {"field": "t", "type": "quantitative", "scale": {"domain": [0, 24], "nice": false, "zero": false}, "axis": null},
                     "y": {"field": "hi", "type": "quantitative", "scale": {"domain": [0.4, 1.1], "nice": false, "zero": false}, "axis": null}}},
       {"data": {"name": "bk"}, "mark": {"type": "point", "shape": "square", "filled": true, "color": "black", "size": 256, "opacity": 1},
        "encoding": {"x": {"field": "t", "type": "quantitative", "scale": {"domain": [0, 24], "nice": false, "zero": false}, "axis": null},
                     "y": {"field": "m", "type": "quantitative", "scale": {"domain": [0.4, 1.1], "nice": false, "zero": false}, "axis": null}}},
       {"data": {"name": "br"}, "mark": {"type": "line", "color": "#ff0000", "strokeWidth": 1.5},
        "encoding": {"x": {"field": "t", "type": "quantitative", "scale": {"domain": [0, 24], "nice": false, "zero": false}, "axis": null},
                     "y": {"field": "m", "type": "quantitative", "scale": {"domain": [0.4, 1.1], "nice": false, "zero": false}, "axis": null}}},
       {"data": {"name": "br"}, "mark": {"type": "rule", "color": "#ff0000", "strokeWidth": 1.2},
        "encoding": {"x": {"field": "t", "type": "quantitative", "scale": {"domain": [0, 24], "nice": false, "zero": false}, "axis": null},
                     "y": {"field": "lo", "type": "quantitative", "scale": {"domain": [0.4, 1.1], "nice": false, "zero": false}, "axis": null}, "y2": {"field": "hi"}}},
       {"data": {"name": "br"}, "mark": {"type": "tick", "orient": "horizontal", "size": 8, "thickness": 1.2, "color": "#ff0000"},
        "encoding": {"x": {"field": "t", "type": "quantitative", "scale": {"domain": [0, 24], "nice": false, "zero": false}, "axis": null},
                     "y": {"field": "lo", "type": "quantitative", "scale": {"domain": [0.4, 1.1], "nice": false, "zero": false}, "axis": null}}},
       {"data": {"name": "br"}, "mark": {"type": "tick", "orient": "horizontal", "size": 8, "thickness": 1.2, "color": "#ff0000"},
        "encoding": {"x": {"field": "t", "type": "quantitative", "scale": {"domain": [0, 24], "nice": false, "zero": false}, "axis": null},
                     "y": {"field": "hi", "type": "quantitative", "scale": {"domain": [0.4, 1.1], "nice": false, "zero": false}, "axis": null}}},
       {"data": {"name": "br"}, "mark": {"type": "point", "shape": "circle", "filled": true, "color": "#ff0000", "size": 333, "opacity": 1},
        "encoding": {"x": {"field": "t", "type": "quantitative", "scale": {"domain": [0, 24], "nice": false, "zero": false}, "axis": null},
                     "y": {"field": "m", "type": "quantitative", "scale": {"domain": [0.4, 1.1], "nice": false, "zero": false}, "axis": null}}},
       {"mark": {"type": "text", "text": "B", "fontSize": 36, "fontWeight": "bold", "align": "left", "baseline": "middle"},
        "encoding": {"x": {"datum": -4.626, "type": "quantitative", "scale": {"domain": [0, 24], "nice": false, "zero": false}, "axis": null},
                     "y": {"datum": 1.2258, "type": "quantitative", "scale": {"domain": [0.4, 1.1], "nice": false, "zero": false}, "axis": null}}},
       {"mark": {"type": "text", "text": "10 μM PREG", "fontSize": 29, "align": "center", "baseline": "middle"},
        "encoding": {"x": {"datum": 7.657, "type": "quantitative", "scale": {"domain": [0, 24], "nice": false, "zero": false}, "axis": null},
                     "y": {"datum": 1.0953, "type": "quantitative", "scale": {"domain": [0.4, 1.1], "nice": false, "zero": false}, "axis": null}}},
       {"mark": {"type": "rule", "strokeWidth": 3.5, "color": "black"},
        "encoding": {"x": {"datum": 3.0, "type": "quantitative", "scale": {"domain": [0, 24], "nice": false, "zero": false}, "axis": null}, "x2": {"datum": 12.97},
                     "y": {"datum": 1.0572, "type": "quantitative", "scale": {"domain": [0.4, 1.1], "nice": false, "zero": false}, "axis": null}}},
       {"mark": {"type": "text", "text": "10 μM PREG", "fontSize": 29, "fontWeight": "bold", "color": "#ff0000", "align": "center", "baseline": "middle"},
        "encoding": {"x": {"datum": 7.72, "type": "quantitative", "scale": {"domain": [0, 24], "nice": false, "zero": false}, "axis": null},
                     "y": {"datum": 0.5735, "type": "quantitative", "scale": {"domain": [0.4, 1.1], "nice": false, "zero": false}, "axis": null}}},
       {"mark": {"type": "rule", "strokeWidth": 3.5, "color": "#ff0000"},
        "encoding": {"x": {"datum": 3.13, "type": "quantitative", "scale": {"domain": [0, 24], "nice": false, "zero": false}, "axis": null}, "x2": {"datum": 13.06},
                     "y": {"datum": 0.5449, "type": "quantitative", "scale": {"domain": [0.4, 1.1], "nice": false, "zero": false}, "axis": null}}},
       {"mark": {"type": "rule", "strokeWidth": 3.5, "color": "#ff0000"},
        "encoding": {"x": {"datum": 8.12, "type": "quantitative", "scale": {"domain": [0, 24], "nice": false, "zero": false}, "axis": null}, "x2": {"datum": 13.06},
                     "y": {"datum": 0.5115, "type": "quantitative", "scale": {"domain": [0.4, 1.1], "nice": false, "zero": false}, "axis": null}}},
       {"mark": {"type": "text", "text": "50 mM EtOH", "fontSize": 29, "fontWeight": "bold", "color": "#ff0000", "align": "center", "baseline": "middle"},
        "encoding": {"x": {"datum": 9.62, "type": "quantitative", "scale": {"domain": [0, 24], "nice": false, "zero": false}, "axis": null},
                     "y": {"datum": 0.4716, "type": "quantitative", "scale": {"domain": [0.4, 1.1], "nice": false, "zero": false}, "axis": null}}},
       {"mark": {"type": "text", "text": "NPo/NPo", "fontSize": 38, "angle": 270, "align": "left", "baseline": "alphabetic"},
        "encoding": {"x": {"datum": -3.6, "type": "quantitative", "scale": {"domain": [0, 24], "nice": false, "zero": false}, "axis": null},
                     "y": {"datum": 0.587, "type": "quantitative", "scale": {"domain": [0.4, 1.1], "nice": false, "zero": false}, "axis": null}}},
       {"mark": {"type": "text", "text": "base", "fontSize": 28, "angle": 270, "align": "left", "baseline": "alphabetic"},
        "encoding": {"x": {"datum": -2.98, "type": "quantitative", "scale": {"domain": [0, 24], "nice": false, "zero": false}, "axis": null},
                     "y": {"datum": 0.833, "type": "quantitative", "scale": {"domain": [0.4, 1.1], "nice": false, "zero": false}, "axis": null}}}
      ]
     }
    ],
    "spacing": 0, "bounds": "flush"
   }
  ],
  "spacing": 0, "bounds": "flush"
 },
 {
  "hconcat": [
   {"width": 171.3, "height": 1, "data": {"values": [{}]}, "mark": {"type": "point", "opacity": 0}},
   {
    "vconcat": [
     {"width": 577, "height": 4.2, "data": {"values": [{}]}, "mark": {"type": "point", "opacity": 0}},
     {
      "width": 577, "height": 465.6,
      "data": {"values": [{}]},
      "resolve": {"scale": {"x": "independent", "xOffset": "independent"}, "axis": {"x": "independent", "y": "independent"}},
      "layer": [
       {"data": {"name": "cbar"}, "mark": {"type": "bar", "fill": "white", "stroke": "black", "strokeWidth": 1.5},
        "encoding": {"x": {"field": "g", "type": "nominal", "sort": null, "scale": {"domain": ["PREG", "PREG+EtOH"], "paddingInner": 0.355, "paddingOuter": 0.1775},
                           "axis": {"orient": "bottom", "labelAngle": 0, "labelFontSize": 40, "labelPadding": 4, "labelLimit": 0, "tickSize": 10, "tickWidth": 1.5, "domainWidth": 1.5, "title": null}},
                     "y": {"field": "m", "type": "quantitative", "scale": {"domain": [0.4, 1.1], "nice": false, "zero": false},
                           "axis": {"orient": "left", "values": [0.4,0.5,0.6,0.7,0.8,0.9,1.0,1.1], "format": ".1f", "tickSize": 8, "tickWidth": 1.5, "domainWidth": 1.5, "labelFontSize": 28, "labelPadding": 8, "labelOverlap": false, "title": null}},
                     "y2": {"datum": 0.4}}},
       {"mark": {"type": "point", "opacity": 0},
        "encoding": {"x": {"datum": 0, "type": "quantitative", "scale": {"domain": [0, 1], "nice": false, "zero": false}, "axis": null},
                     "y": {"datum": 0.4, "type": "quantitative", "scale": {"domain": [0.4, 1.1], "nice": false, "zero": false},
                           "axis": {"orient": "left", "values": [0.45,0.55,0.65,0.75,0.85,0.95,1.05], "labels": false, "domain": false, "tickSize": 5, "tickWidth": 1.5, "title": null}}}},
       {"data": {"name": "cbar"}, "mark": {"type": "rule", "strokeWidth": 1.5, "color": "black"},
        "encoding": {"x": {"field": "g", "type": "nominal", "sort": null, "scale": {"domain": ["PREG", "PREG+EtOH"], "paddingInner": 0.355, "paddingOuter": 0.1775}, "axis": null},
                     "y": {"field": "m", "type": "quantitative", "scale": {"domain": [0.4, 1.1], "nice": false, "zero": false}, "axis": null}, "y2": {"field": "hi"}}},
       {"data": {"name": "cbar"}, "mark": {"type": "tick", "orient": "horizontal", "size": 95, "thickness": 1.5, "color": "black"},
        "encoding": {"x": {"field": "g", "type": "nominal", "sort": null, "scale": {"domain": ["PREG", "PREG+EtOH"], "paddingInner": 0.355, "paddingOuter": 0.1775}, "axis": null},
                     "y": {"field": "hi", "type": "quantitative", "scale": {"domain": [0.4, 1.1], "nice": false, "zero": false}, "axis": null}}},
       {"data": {"name": "cdots"}, "mark": {"type": "point", "filled": true, "opacity": 1, "size": 440},
        "encoding": {"x": {"field": "g", "type": "nominal", "sort": null, "scale": {"domain": ["PREG", "PREG+EtOH"], "paddingInner": 0.355, "paddingOuter": 0.1775}, "axis": null},
                     "xOffset": {"field": "j", "type": "quantitative", "scale": {"domain": [-6.106, 6.106], "nice": false, "zero": false}},
                     "y": {"field": "v", "type": "quantitative", "scale": {"domain": [0.4, 1.1], "nice": false, "zero": false}, "axis": null},
                     "color": {"field": "g", "type": "nominal", "scale": {"domain": ["PREG", "PREG+EtOH"], "range": ["black", "#ff0000"]}, "legend": null},
                     "shape": {"field": "g", "type": "nominal", "scale": {"domain": ["PREG", "PREG+EtOH"], "range": ["square", "circle"]}, "legend": null}}},
       {"mark": {"type": "rule", "strokeDash": [8, 5], "strokeWidth": 1.5, "color": "black"},
        "encoding": {"x": {"datum": 0, "type": "quantitative", "scale": {"domain": [0, 1], "nice": false, "zero": false}, "axis": null}, "x2": {"datum": 0.931},
                     "y": {"datum": 1.0, "type": "quantitative", "scale": {"domain": [0.4, 1.1], "nice": false, "zero": false}, "axis": null}}},
       {"mark": {"type": "text", "text": "C", "fontSize": 36, "fontWeight": "bold", "align": "left", "baseline": "middle"},
        "encoding": {"x": {"datum": -0.286, "type": "quantitative", "scale": {"domain": [0, 1], "nice": false, "zero": false}, "axis": null},
                     "y": {"datum": 1.1585, "type": "quantitative", "scale": {"domain": [0.4, 1.1], "nice": false, "zero": false}, "axis": null}}},
       {"mark": {"type": "text", "text": "NPo/NPo", "fontSize": 42, "angle": 270, "align": "left", "baseline": "alphabetic"},
        "encoding": {"x": {"datum": -0.1456, "type": "quantitative", "scale": {"domain": [0, 1], "nice": false, "zero": false}, "axis": null},
                     "y": {"datum": 0.55, "type": "quantitative", "scale": {"domain": [0.4, 1.1], "nice": false, "zero": false}, "axis": null}}},
       {"mark": {"type": "text", "text": "base", "fontSize": 38, "angle": 270, "align": "left", "baseline": "alphabetic"},
        "encoding": {"x": {"datum": -0.1352, "type": "quantitative", "scale": {"domain": [0, 1], "nice": false, "zero": false}, "axis": null},
                     "y": {"datum": 0.818, "type": "quantitative", "scale": {"domain": [0.4, 1.1], "nice": false, "zero": false}, "axis": null}}}
      ]
     }
    ],
    "spacing": 0, "bounds": "flush"
   },
   {"width": 898.6, "height": 1, "data": {"values": [{}]}, "mark": {"type": "point", "opacity": 0}},
   {
    "width": 569.7, "height": 467.9,
    "data": {"values": [{}]},
    "resolve": {"axis": {"x": "independent", "y": "independent"}},
    "layer": [
     {"data": {"name": "dcurve"}, "mark": {"type": "line", "color": "black", "strokeWidth": 1.5},
      "encoding": {"x": {"field": "c", "type": "quantitative", "scale": {"type": "log", "domain": [1e-11, 257], "nice": false},
                         "axis": {"orient": "bottom", "values": [1e-11, 1e-8, 1e-5, 0.01, 10], "labelExpr": "datum.value < 1e-10 ? '1E-11' : datum.value < 1e-7 ? '1E-8' : datum.value < 1e-4 ? '1E-5' : datum.value < 1 ? '0.01' : '10'", "tickSize": 8, "tickWidth": 1.5, "domainWidth": 1.5, "labelFontSize": 27, "labelPadding": 5, "labelFlush": false, "labelOverlap": false, "title": "[Ca²⁺] (μM)", "titleFontSize": 34, "titlePadding": 16}},
                   "y": {"field": "v", "type": "quantitative", "scale": {"domain": [-0.255, 3.5], "nice": false, "zero": false},
                         "axis": {"orient": "left", "values": [0, 0.5, 1, 1.5, 2, 2.5, 3, 3.5], "format": ".1f", "tickSize": 8, "tickWidth": 1.5, "domainWidth": 1.5, "labelFontSize": 29, "labelPadding": 4, "labelOverlap": false, "title": "Log(R₀)", "titleFontSize": 34, "titlePadding": 22}},
                   "strokeDash": {"field": "s", "type": "nominal", "scale": {"domain": ["Control", "PREG"], "range": [[1, 0], [6, 4]]}, "legend": null}}},
     {"mark": {"type": "point", "opacity": 0},
      "encoding": {"x": {"datum": 1, "type": "quantitative", "scale": {"type": "log", "domain": [1e-11, 257], "nice": false},
                         "axis": {"orient": "bottom", "values": [1e-10, 1e-9, 1e-7, 1e-6, 1e-4, 1e-3, 0.1, 1, 100], "labels": false, "domain": false, "tickSize": 6, "tickWidth": 1.2, "title": null}},
                   "y": {"datum": 0, "type": "quantitative", "scale": {"domain": [-0.255, 3.5], "nice": false, "zero": false},
                         "axis": {"orient": "left", "values": [-0.25, 0.25, 0.75, 1.25, 1.75, 2.25, 2.75, 3.25], "labels": false, "domain": false, "tickSize": 5, "tickWidth": 1.2, "title": null}}}},
     {"mark": {"type": "point", "opacity": 0},
      "encoding": {"x": {"datum": 1, "type": "quantitative", "scale": {"type": "log", "domain": [1e-11, 257], "nice": false},
                         "axis": {"orient": "bottom", "values": [2e-11,3e-11,4e-11,5e-11,6e-11,7e-11,8e-11,9e-11,2e-10,3e-10,4e-10,5e-10,6e-10,7e-10,8e-10,9e-10,2e-9,3e-9,4e-9,5e-9,6e-9,7e-9,8e-9,9e-9,2e-8,3e-8,4e-8,5e-8,6e-8,7e-8,8e-8,9e-8,2e-7,3e-7,4e-7,5e-7,6e-7,7e-7,8e-7,9e-7,2e-6,3e-6,4e-6,5e-6,6e-6,7e-6,8e-6,9e-6,2e-5,3e-5,4e-5,5e-5,6e-5,7e-5,8e-5,9e-5,2e-4,3e-4,4e-4,5e-4,6e-4,7e-4,8e-4,9e-4,0.002,0.003,0.004,0.005,0.006,0.007,0.008,0.009,0.02,0.03,0.04,0.05,0.06,0.07,0.08,0.09,0.2,0.3,0.4,0.5,0.6,0.7,0.8,0.9,2,3,4,5,6,7,8,9,20,30,40,50,60,70,80,90,200], "labels": false, "domain": false, "tickSize": 4, "tickWidth": 1, "title": null}},
                   "y": {"datum": 0, "type": "quantitative", "scale": {"domain": [-0.255, 3.5], "nice": false, "zero": false}, "axis": null}}},
     {"data": {"name": "dpts"}, "mark": {"type": "rule", "color": "black", "strokeWidth": 1.2},
      "encoding": {"x": {"field": "c", "type": "quantitative", "scale": {"type": "log", "domain": [1e-11, 257], "nice": false}, "axis": null},
                   "y": {"field": "lo", "type": "quantitative", "scale": {"domain": [-0.255, 3.5], "nice": false, "zero": false}, "axis": null}, "y2": {"field": "hi"}}},
     {"data": {"name": "dpts"}, "mark": {"type": "tick", "orient": "horizontal", "size": 10, "thickness": 1.2, "color": "black"},
      "encoding": {"x": {"field": "c", "type": "quantitative", "scale": {"type": "log", "domain": [1e-11, 257], "nice": false}, "axis": null},
                   "y": {"field": "hi", "type": "quantitative", "scale": {"domain": [-0.255, 3.5], "nice": false, "zero": false}, "axis": null}}},
     {"data": {"name": "dpts"}, "mark": {"type": "tick", "orient": "horizontal", "size": 10, "thickness": 1.2, "color": "black"},
      "encoding": {"x": {"field": "c", "type": "quantitative", "scale": {"type": "log", "domain": [1e-11, 257], "nice": false}, "axis": null},
                   "y": {"field": "lo", "type": "quantitative", "scale": {"domain": [-0.255, 3.5], "nice": false, "zero": false}, "axis": null}}},
     {"data": {"name": "dpts"}, "mark": {"type": "point", "shape": "square", "filled": true, "stroke": "black", "strokeWidth": 1.5, "opacity": 1, "size": 289},
      "encoding": {"x": {"field": "c", "type": "quantitative", "scale": {"type": "log", "domain": [1e-11, 257], "nice": false}, "axis": null},
                   "y": {"field": "v", "type": "quantitative", "scale": {"domain": [-0.255, 3.5], "nice": false, "zero": false}, "axis": null},
                   "fill": {"field": "s", "type": "nominal", "scale": {"domain": ["Control", "PREG"], "range": ["white", "black"]}, "legend": null}}},
     {"mark": {"type": "point", "shape": "square", "filled": true, "fill": "white", "stroke": "black", "strokeWidth": 1.5, "opacity": 1, "size": 289},
      "encoding": {"x": {"datum": 1.545e-10, "type": "quantitative", "scale": {"type": "log", "domain": [1e-11, 257], "nice": false}, "axis": null},
                   "y": {"datum": 3.163, "type": "quantitative", "scale": {"domain": [-0.255, 3.5], "nice": false, "zero": false}, "axis": null}}},
     {"mark": {"type": "point", "shape": "square", "filled": true, "fill": "black", "stroke": "black", "strokeWidth": 1.5, "opacity": 1, "size": 289},
      "encoding": {"x": {"datum": 1.545e-10, "type": "quantitative", "scale": {"type": "log", "domain": [1e-11, 257], "nice": false}, "axis": null},
                   "y": {"datum": 2.555, "type": "quantitative", "scale": {"domain": [-0.255, 3.5], "nice": false, "zero": false}, "axis": null}}},
     {"mark": {"type": "text", "text": "Control", "fontSize": 29, "align": "left", "baseline": "middle"},
      "encoding": {"x": {"datum": 1.597e-9, "type": "quantitative", "scale": {"type": "log", "domain": [1e-11, 257], "nice": false}, "axis": null},
                   "y": {"datum": 3.163, "type": "quantitative", "scale": {"domain": [-0.255, 3.5], "nice": false, "zero": false}, "axis": null}}},
     {"mark": {"type": "text", "text": "PREG (10 μM)", "fontSize": 29, "align": "left", "baseline": "middle"},
      "encoding": {"x": {"datum": 1.597e-9, "type": "quantitative", "scale": {"type": "log", "domain": [1e-11, 257], "nice": false}, "axis": null},
                   "y": {"datum": 2.555, "type": "quantitative", "scale": {"domain": [-0.255, 3.5], "nice": false, "zero": false}, "axis": null}}},
     {"mark": {"type": "text", "text": "C=3.27±0.082", "fontSize": 23, "color": "#333333", "align": "left", "baseline": "middle"},
      "encoding": {"x": {"datum": 3.18e-7, "type": "quantitative", "scale": {"type": "log", "domain": [1e-11, 257], "nice": false}, "axis": null},
                   "y": {"datum": 3.129, "type": "quantitative", "scale": {"domain": [-0.255, 3.5], "nice": false, "zero": false}, "axis": null}}},
     {"mark": {"type": "text", "text": "K", "fontSize": 23, "color": "#333333", "align": "left", "baseline": "middle"},
      "encoding": {"x": {"datum": 3.57e-7, "type": "quantitative", "scale": {"type": "log", "domain": [1e-11, 257], "nice": false}, "axis": null},
                   "y": {"datum": 2.892, "type": "quantitative", "scale": {"domain": [-0.255, 3.5], "nice": false, "zero": false}, "axis": null}}},
     {"mark": {"type": "text", "text": "d", "fontSize": 14, "color": "#333333", "align": "left", "baseline": "middle", "dx": 15, "dy": 7},
      "encoding": {"x": {"datum": 3.57e-7, "type": "quantitative", "scale": {"type": "log", "domain": [1e-11, 257], "nice": false}, "axis": null},
                   "y": {"datum": 2.892, "type": "quantitative", "scale": {"domain": [-0.255, 3.5], "nice": false, "zero": false}, "axis": null}}},
     {"mark": {"type": "text", "text": "=0.57±0.78", "fontSize": 23, "color": "#333333", "align": "left", "baseline": "middle", "dx": 22},
      "encoding": {"x": {"datum": 3.57e-7, "type": "quantitative", "scale": {"type": "log", "domain": [1e-11, 257], "nice": false}, "axis": null},
                   "y": {"datum": 2.892, "type": "quantitative", "scale": {"domain": [-0.255, 3.5], "nice": false, "zero": false}, "axis": null}}},
     {"mark": {"type": "text", "text": "C=2.72±0.005", "fontSize": 23, "color": "#333333", "align": "left", "baseline": "middle"},
      "encoding": {"x": {"datum": 1.153e-5, "type": "quantitative", "scale": {"type": "log", "domain": [1e-11, 257], "nice": false}, "axis": null},
                   "y": {"datum": 2.319, "type": "quantitative", "scale": {"domain": [-0.255, 3.5], "nice": false, "zero": false}, "axis": null}}},
     {"mark": {"type": "text", "text": "K", "fontSize": 23, "color": "#333333", "align": "left", "baseline": "middle"},
      "encoding": {"x": {"datum": 1.153e-5, "type": "quantitative", "scale": {"type": "log", "domain": [1e-11, 257], "nice": false}, "axis": null},
                   "y": {"datum": 2.108, "type": "quantitative", "scale": {"domain": [-0.255, 3.5], "nice": false, "zero": false}, "axis": null}}},
     {"mark": {"type": "text", "text": "d", "fontSize": 14, "color": "#333333", "align": "left", "baseline": "middle", "dx": 15, "dy": 7},
      "encoding": {"x": {"datum": 1.153e-5, "type": "quantitative", "scale": {"type": "log", "domain": [1e-11, 257], "nice": false}, "axis": null},
                   "y": {"datum": 2.108, "type": "quantitative", "scale": {"domain": [-0.255, 3.5], "nice": false, "zero": false}, "axis": null}}},
     {"mark": {"type": "text", "text": "=0.24±0.01", "fontSize": 23, "color": "#333333", "align": "left", "baseline": "middle", "dx": 22},
      "encoding": {"x": {"datum": 1.153e-5, "type": "quantitative", "scale": {"type": "log", "domain": [1e-11, 257], "nice": false}, "axis": null},
                   "y": {"datum": 2.108, "type": "quantitative", "scale": {"domain": [-0.255, 3.5], "nice": false, "zero": false}, "axis": null}}},
     {"mark": {"type": "text", "text": "D", "fontSize": 36, "fontWeight": "bold", "align": "left", "baseline": "middle"},
      "encoding": {"x": {"datum": 1.148e-14, "type": "quantitative", "scale": {"type": "log", "domain": [1e-11, 257], "nice": false}, "axis": null},
                   "y": {"datum": 3.7785, "type": "quantitative", "scale": {"domain": [-0.255, 3.5], "nice": false, "zero": false}, "axis": null}}}
    ]
   }
  ],
  "spacing": 0, "bounds": "flush"
 }
],
"spacing": 875.5,
"bounds": "flush"
}
